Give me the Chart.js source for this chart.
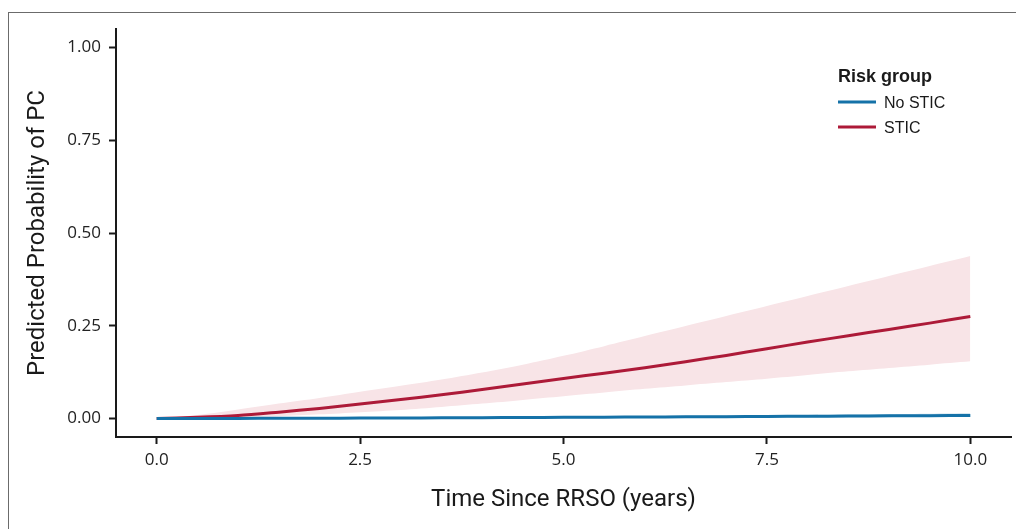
<!DOCTYPE html>
<html>
<head>
<meta charset="utf-8">
<script src="https://cdn.jsdelivr.net/npm/chart.js@4.4.1/dist/chart.umd.min.js"></script>
<style>
  body { margin: 0; background: #fff; }
  .wrap { position: relative; width: 1016px; height: 529px; overflow: hidden; }
  .frame { position: absolute; left: 8px; top: 12px; width: 1020px; height: 600px;
           border-left: 1.5px solid #6b6b6b; border-top: 1.5px solid #6b6b6b; }
  canvas { position: absolute; left: 0; top: 0; }
</style>
</head>
<body>
<div class="wrap">
  <div class="frame"></div>
  <canvas id="myChart" width="1016" height="529"></canvas>
</div>
<script>
// time since RRSO in years
const years = [0, 0.5, 1, 1.5, 2, 2.5, 3, 3.5, 4, 4.5, 5, 5.5, 6, 6.5, 7, 7.5, 8, 8.5, 9, 9.5, 10];

// predicted probability, STIC group
const stic     = [0, 0.003, 0.008, 0.017, 0.027, 0.039, 0.051, 0.064, 0.078, 0.093, 0.108, 0.122, 0.137, 0.153, 0.170, 0.188, 0.206, 0.223, 0.240, 0.257, 0.275];
const sticLow  = [0, 0.001, 0.003, 0.006, 0.011, 0.017, 0.023, 0.031, 0.040, 0.050, 0.060, 0.070, 0.080, 0.089, 0.098, 0.107, 0.117, 0.127, 0.136, 0.145, 0.154];
const sticHigh = [0, 0.009, 0.024, 0.040, 0.055, 0.072, 0.088, 0.105, 0.124, 0.145, 0.169, 0.195, 0.222, 0.249, 0.276, 0.303, 0.330, 0.357, 0.384, 0.411, 0.438];

// predicted probability, no STIC group
const noStic     = [0, 0.0001, 0.0002, 0.0004, 0.0006, 0.0009, 0.0012, 0.0016, 0.002, 0.0025, 0.003, 0.0034, 0.0038, 0.0043, 0.0048, 0.0054, 0.006, 0.0065, 0.007, 0.0075, 0.008];
const noSticLow  = [0, 0, 0.0001, 0.0002, 0.0003, 0.0004, 0.0006, 0.0008, 0.001, 0.0012, 0.0014, 0.0016, 0.0018, 0.002, 0.0023, 0.0026, 0.0029, 0.0032, 0.0035, 0.0038, 0.004];
const noSticHigh = [0, 0.0002, 0.0004, 0.0008, 0.0012, 0.0017, 0.0022, 0.0028, 0.0035, 0.0042, 0.005, 0.0057, 0.0064, 0.0072, 0.008, 0.0088, 0.0096, 0.0105, 0.0115, 0.0127, 0.014];

const xTicks = [0, 2.5, 5, 7.5, 10];
const yTicks = [0, 0.25, 0.5, 0.75, 1];

const legendTitle = "Risk group";
const blue = "#1572a8";
const red = "#ad1a38";

function pts(arr) {
  return years.map((x, i) => ({ x: x, y: arr[i] }));
}

const band = { pointRadius: 0, borderWidth: 0, tension: 0.3 };

// legend drawn inside the plot, top right
const legendInside = {
  id: "legendInside",
  afterDraw(chart) {
    const ctx = chart.ctx;
    const items = chart.data.datasets.filter(d => d.inLegend);
    ctx.save();
    ctx.textBaseline = "alphabetic";
    ctx.textAlign = "left";
    ctx.fillStyle = "#1a1a1a";
    ctx.font = "bold 18px 'Liberation Sans', Arial, sans-serif";
    ctx.fillText(legendTitle, 838, 82);
    ctx.font = "16px 'Liberation Sans', Arial, sans-serif";
    items.forEach((d, i) => {
      const y = 102 + i * 25;
      ctx.strokeStyle = d.borderColor;
      ctx.lineWidth = 3;
      ctx.beginPath();
      ctx.moveTo(838, y);
      ctx.lineTo(876, y);
      ctx.stroke();
      ctx.fillText(d.label, 884, y + 6);
    });
    ctx.restore();
  }
};

const titleFont = { family: "Roboto, 'Liberation Sans', sans-serif", size: 24 };
const tickFont = { family: "'Open Sans', 'Noto Sans', sans-serif", size: 17 };

// chart.js paints dataset 0 last, so lines go first and bands after
new Chart(document.getElementById("myChart"), {
  type: "line",
  data: {
    datasets: [
      { label: "No STIC", data: pts(noStic), borderColor: blue, borderWidth: 3, pointRadius: 0, fill: false, tension: 0.3, inLegend: true },
      { label: "STIC", data: pts(stic), borderColor: red, borderWidth: 3, pointRadius: 0, fill: false, tension: 0.3, inLegend: true },
      Object.assign({ label: "stic high", data: pts(sticHigh), fill: false }, band),
      Object.assign({ label: "stic low", data: pts(sticLow), fill: "-1", backgroundColor: "#f8e4e7" }, band),
      Object.assign({ label: "no stic high", data: pts(noSticHigh), fill: false }, band),
      Object.assign({ label: "no stic low", data: pts(noSticLow), fill: "-1", backgroundColor: "#c9dfec" }, band)
    ]
  },
  options: {
    responsive: false,
    animation: false,
    layout: { padding: { top: 29, right: 5, left: 0, bottom: 0 } },
    plugins: { legend: { display: false }, tooltip: { enabled: false } },
    scales: {
      x: {
        type: "linear",
        min: -0.5,
        max: 10.5,
        afterBuildTicks: s => { s.ticks = xTicks.map(v => ({ value: v })); },
        afterFit: s => { s.height = 92; },
        ticks: { font: tickFont, color: "#222", padding: 6, maxRotation: 0, callback: v => v.toFixed(1) },
        grid: { drawOnChartArea: false, drawTicks: true, tickLength: 7, tickWidth: 2, tickColor: "#1a1a1a" },
        border: { display: true, color: "#1a1a1a", width: 2 },
        title: { display: true, text: "Time Since RRSO (years)", font: titleFont, color: "#1a1a1a", padding: { top: 15, bottom: 15 } }
      },
      y: {
        min: -0.05,
        max: 1.05,
        afterBuildTicks: s => { s.ticks = yTicks.map(v => ({ value: v })); },
        afterFit: s => { s.width = 116; },
        ticks: { font: tickFont, color: "#222", padding: 8, callback: v => v.toFixed(2) },
        grid: { drawOnChartArea: false, drawTicks: true, tickLength: 7, tickWidth: 2, tickColor: "#1a1a1a" },
        border: { display: true, color: "#1a1a1a", width: 2 },
        title: { display: true, text: "Predicted Probability of PC", font: titleFont, color: "#1a1a1a", padding: { top: 24, bottom: 24 } }
      }
    }
  },
  plugins: [legendInside]
});
</script>
</body>
</html>
